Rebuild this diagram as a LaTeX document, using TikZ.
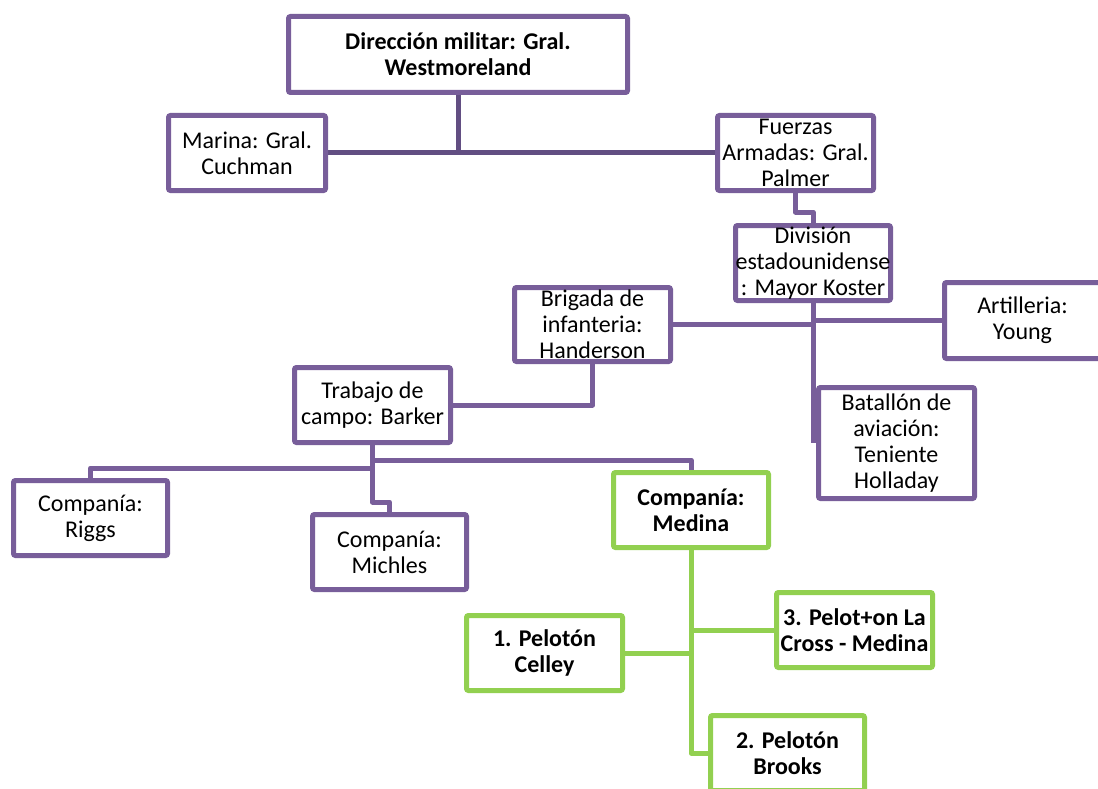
\documentclass[tikz,border=0pt]{standalone}
\usepackage{fontspec}
\setmainfont{Carlito}
\usetikzlibrary{backgrounds}
\definecolor{pur}{RGB}{120,94,154}
\definecolor{purdk}{RGB}{98,78,130}
\definecolor{grn}{RGB}{146,208,80}
\tikzset{
  box/.style={draw=pur, line width=5pt, rounded corners=2pt, fill=white, inner sep=0pt,
    align=center, font=\fontsize{24}{26}\selectfont, text=black},
  gbox/.style={box, draw=grn, font=\fontsize{24}{26}\selectfont\bfseries},
  pbbox/.style={box, font=\fontsize{24}{26}\selectfont\bfseries},
  conn/.style={draw=pur, line width=5pt, line join=round},
  conndk/.style={draw=purdk, line width=5pt, line join=round},
  gconn/.style={draw=grn, line width=5pt, line join=round},
}
\begin{document}
\begin{tikzpicture}[x=1pt,y=-1pt]
\useasboundingbox (0,0) rectangle (1098,789);
\coordinate (c1) at (458,153);
\coordinate (c2) at (813,443);
\coordinate (c3) at (691,753);
% nodes
\node[pbbox, minimum width=339pt, minimum height=76pt] (dir) at (458,54.5) {Dirección militar: Gral.\\Westmoreland};
\node[box, minimum width=157pt, minimum height=75pt] (mar) at (247,153) {Marina: Gral.\\Cuchman};
\node[box, minimum width=156pt, minimum height=75pt] (fue) at (795.5,153) {Fuerzas\\Armadas: Gral.\\Palmer};
\node[box, minimum width=155pt, minimum height=75pt] (div) at (813,263) {División\\estadounidense\\: Mayor Koster};
\node[box, minimum width=156pt, minimum height=76pt] (art) at (1022.5,320.5) {Artilleria:\\Young};
\node[box, minimum width=156pt, minimum height=74pt] (bri) at (592.5,324.5) {Brigada de\\infanteria:\\Handerson};
\node[box, minimum width=156pt, minimum height=75pt] (tra) at (372.5,405) {Trabajo de\\campo: Barker};
\node[box, minimum width=156pt, minimum height=111pt] (bat) at (896.5,443) {Batallón de\\aviación:\\Teniente\\Holladay};
\node[box, minimum width=154pt, minimum height=75pt] (rig) at (90.5,518) {Companía:\\Riggs};
\node[box, minimum width=154pt, minimum height=75pt] (mic) at (389.5,552) {Companía:\\Michles};
\node[gbox, minimum width=155pt, minimum height=75pt] (med) at (691,510) {Companía:\\Medina};
\node[gbox, minimum width=156pt, minimum height=75pt] (p3) at (854.5,630) {3. Pelot+on La\\Cross - Medina};
\node[gbox, minimum width=156pt, minimum height=75pt] (p1) at (544.5,653) {1. Pelotón\\Celley};
\node[gbox, minimum width=154pt, minimum height=75pt] (p2) at (787.5,753) {2. Pelotón\\Brooks};
% connectors
\begin{scope}[on background layer]
\draw[conndk] (dir.south) -- (c1);
\draw[conndk] (mar.east) -- (c1) -- (fue.west);
\draw[conn] (fue.south) -- ++(0,19) -| (div.north);
\draw[conn] (div.south) -- (c2);
\draw[conn] (bri.east) -- (bri.east -| div.south);
\draw[conn] (art.west) -- (art.west -| div.south);
\draw[conn] (bri.south) |- (tra.east);
\draw[conn] (tra.south) -- ++(0,23) -| (rig.north);
\draw[conn] (tra.south) -- ++(0,15) -| (med.north);
\draw[conn] (tra.south) -- ++(0,57) -| (mic.north);
\draw[gconn] (med.south) -- (c3) -- (p2.west);
\draw[gconn] (p3.west) -- (p3.west -| med.south);
\draw[gconn] (p1.east) -- (p1.east -| med.south);
\end{scope}
\end{tikzpicture}
\end{document}
